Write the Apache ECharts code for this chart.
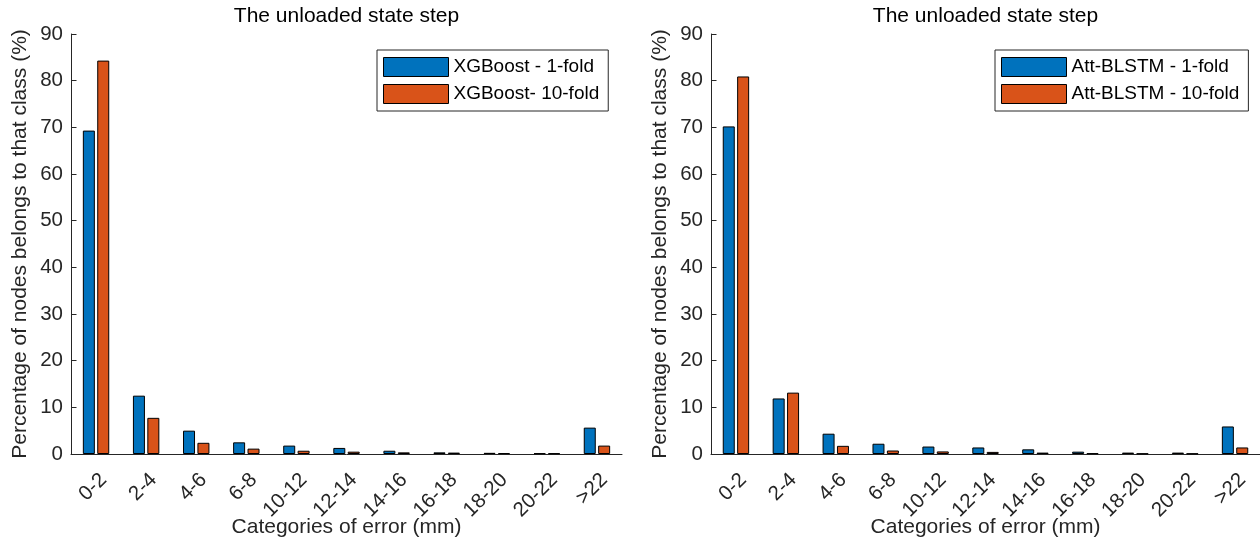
<!DOCTYPE html>
<html>
<head>
<meta charset="utf-8">
<script src="https://cdn.jsdelivr.net/npm/echarts@6/dist/echarts.min.js"></script>
<style>
  html, body { margin: 0; padding: 0; background: #fff; }
  #chart { width: 1260px; height: 541px; }
</style>
</head>
<body>
<div id="chart"></div>
<script>
// Error classes (mm)
const categories = ['0-2', '2-4', '4-6', '6-8', '10-12', '12-14', '14-16', '16-18', '18-20', '20-22', '>22'];

// Percentage of nodes per error class – XGBoost
const xgb1Fold  = [69.3, 12.5, 5.0, 2.5, 1.8, 1.3, 0.7, 0.35, 0.25, 0.15, 5.65];
const xgb10Fold = [84.3, 7.75, 2.4, 1.15, 0.7, 0.5, 0.35, 0.3, 0.2, 0.15, 1.8];

// Percentage of nodes per error class – Att-BLSTM
const att1Fold  = [70.2, 11.9, 4.35, 2.2, 1.6, 1.4, 1.0, 0.5, 0.3, 0.3, 5.9];
const att10Fold = [80.9, 13.15, 1.75, 0.75, 0.55, 0.45, 0.3, 0.15, 0.1, 0.1, 1.4];

const seriesNames = [
  ['XGBoost - 1-fold', 'XGBoost- 10-fold'],
  ['Att-BLSTM - 1-fold', 'Att-BLSTM - 10-fold']
];
const titleText = 'The unloaded state step';
const xName = 'Categories of error (mm)';
const yName = 'Percentage of nodes belongs to that class (%)';

const FONT = '"Liberation Sans", Arial, Helvetica, sans-serif';
const AXIS = '#262626';
const BLUE = '#0072BD';
const ORANGE = '#D95319';

const grids = [
  { left: 71, top: 34, width: 551, height: 420, containLabel: false, outerBoundsMode: 'none' },
  { left: 711, top: 34, width: 549, height: 420, containLabel: false, outerBoundsMode: 'none' }
];

function xAxisFor(i) {
  return {
    type: 'category', gridIndex: i, data: categories,
    boundaryGap: true,
    name: xName, nameLocation: 'middle', nameGap: 63, nameMoveOverlap: false,
    nameTextStyle: { fontFamily: FONT, fontSize: 21, color: AXIS },
    axisLine: { lineStyle: { color: AXIS, width: 1 } },
    axisTick: { alignWithLabel: true, inside: true, length: 5.5, lineStyle: { color: AXIS } },
    axisLabel: {
      rotate: 45, margin: 30, interval: 0,
      fontFamily: FONT, fontSize: 20.5, color: AXIS,
      padding: [0, -10.5, 0, 0]
    },
    splitLine: { show: false }
  };
}

function yAxisFor(i) {
  return {
    type: 'value', gridIndex: i, min: 0, max: 90, interval: 10,
    name: yName, nameLocation: 'middle', nameGap: 40, nameMoveOverlap: false,
    nameTextStyle: { fontFamily: FONT, fontSize: 21, color: AXIS },
    axisLine: { show: true, lineStyle: { color: AXIS, width: 1 } },
    axisTick: { show: true, inside: true, length: 5.5, lineStyle: { color: AXIS } },
    axisLabel: { margin: 8, fontFamily: FONT, fontSize: 20.5, color: AXIS },
    splitLine: { show: false }
  };
}

function barSeries(name, data, color, i) {
  return {
    type: 'bar', name: name, data: data,
    xAxisIndex: i, yAxisIndex: i,
    barWidth: 12, barGap: '20%',
    itemStyle: { color: color, borderColor: '#000', borderWidth: 1 },
    emphasis: { disabled: true },
    animation: false
  };
}

function legendFor(i, left) {
  return {
    orient: 'vertical', left: left, top: 50,
    data: seriesNames[i],
    icon: 'rect', itemWidth: 65, itemHeight: 19, itemGap: 7,
    padding: [7, 9, 7, 6],
    borderColor: AXIS, borderWidth: 1, backgroundColor: '#fff',
    itemStyle: { borderColor: '#000', borderWidth: 1 },
    textStyle: { fontFamily: FONT, fontSize: 19, color: '#000' },
    selectedMode: false
  };
}

const chart = echarts.init(document.getElementById('chart'), null, { renderer: 'canvas' });
chart.setOption({
  backgroundColor: '#fff',
  animation: false,
  title: [
    { text: titleText, left: 346.5, top: 6, textAlign: 'center', padding: 0,
      textStyle: { fontFamily: FONT, fontSize: 21, fontWeight: 'normal', color: '#000' } },
    { text: titleText, left: 985.5, top: 6, textAlign: 'center', padding: 0,
      textStyle: { fontFamily: FONT, fontSize: 21, fontWeight: 'normal', color: '#000' } }
  ],
  grid: grids,
  xAxis: [xAxisFor(0), xAxisFor(1)],
  yAxis: [yAxisFor(0), yAxisFor(1)],
  legend: [legendFor(0, 377), legendFor(1, 995)],
  series: [
    barSeries(seriesNames[0][0], xgb1Fold, BLUE, 0),
    barSeries(seriesNames[0][1], xgb10Fold, ORANGE, 0),
    barSeries(seriesNames[1][0], att1Fold, BLUE, 1),
    barSeries(seriesNames[1][1], att10Fold, ORANGE, 1)
  ]
});
</script>
</body>
</html>
